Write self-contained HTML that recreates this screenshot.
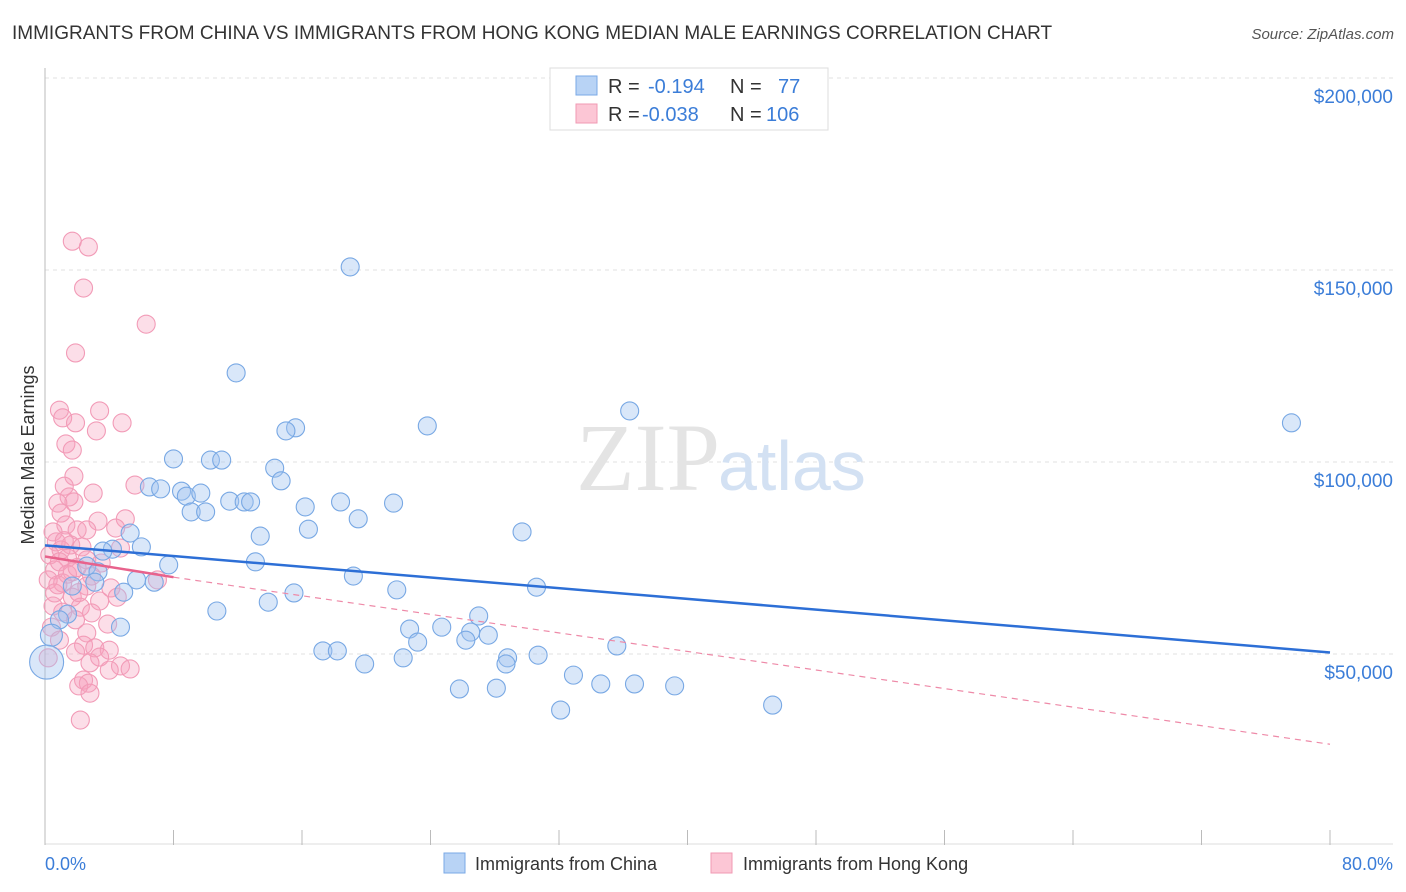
<!DOCTYPE html>
<html><head><meta charset="utf-8">
<style>
body{margin:0;background:#fff;font-family:"Liberation Sans",sans-serif;}
svg{display:block}
</style></head>
<body>
<svg id="chart" width="1406" height="892" xmlns="http://www.w3.org/2000/svg">
<text x="12" y="39" font-size="19" fill="#333">IMMIGRANTS FROM CHINA VS IMMIGRANTS FROM HONG KONG MEDIAN MALE EARNINGS CORRELATION CHART</text>
<text x="1394" y="39" font-size="15" fill="#555" font-style="italic" text-anchor="end">Source: ZipAtlas.com</text>
<g id="grid"></g>
<text x="720" y="490" font-size="96" font-family="Liberation Serif" fill="#e4e4e4" text-anchor="end">ZIP</text>
<text x="718" y="490" font-size="70" fill="#d3e1f3">atlas</text>
<g id="pts"></g>
<g id="trend"></g>
<text transform="translate(34,455) rotate(-90)" font-size="18" fill="#333" text-anchor="middle">Median Male Earnings</text>
<text x="45" y="870" font-size="18" fill="#3b7dd8">0.0%</text>
<text x="1393" y="870" font-size="18" fill="#3b7dd8" text-anchor="end">80.0%</text>
<g>
<rect x="550" y="68" width="278" height="62" fill="#fff" stroke="#ddd"/>
<rect x="576" y="76" width="21" height="19" fill="#b8d3f5" stroke="#7aa8e6"/>
<rect x="576" y="104" width="21" height="19" fill="#fcc6d5" stroke="#f09ab3"/>
<text x="608" y="93" font-size="20" fill="#333">R = </text><text x="648" y="93" font-size="20" fill="#3b7dd8">-0.194</text>
<text x="730" y="93" font-size="20" fill="#333">N = </text><text x="778" y="93" font-size="20" fill="#3b7dd8">77</text>
<text x="608" y="121" font-size="20" fill="#333">R = </text><text x="642" y="121" font-size="20" fill="#3b7dd8">-0.038</text>
<text x="730" y="121" font-size="20" fill="#333">N = </text><text x="766" y="121" font-size="20" fill="#3b7dd8">106</text>
</g>
<g>
<rect x="444" y="853" width="21" height="20" fill="#b8d3f5" stroke="#7aa8e6"/>
<text x="475" y="870" font-size="18" fill="#333">Immigrants from China</text>
<rect x="711" y="853" width="21" height="20" fill="#fcc6d5" stroke="#f09ab3"/>
<text x="743" y="870" font-size="18" fill="#333">Immigrants from Hong Kong</text>
</g>
</svg>
<script>
const yTicks=[50000,100000,150000,200000];
const yTickLabels=["$50,000","$100,000","$150,000","$200,000"];
const xTicks=[0,8,16,24,32,40,48,56,64,72,80];
const chinaX=[19.0,11.9,36.4,77.6,23.8,15.6,15.0,8.0,10.3,11.0,14.3,14.7,6.5,7.2,8.5,8.8,9.7,11.5,12.4,12.8,18.4,21.7,16.2,9.1,10.0,19.5,16.4,29.7,5.3,13.4,6.0,4.2,3.6,13.1,7.7,2.6,3.3,19.2,5.7,6.8,3.1,1.7,30.6,21.9,15.5,4.9,13.9,10.7,27.0,1.4,0.9,4.7,24.7,22.7,27.6,26.5,26.2,23.2,0.4,35.6,17.3,18.2,30.7,22.3,28.8,28.7,19.9,0.1,32.9,34.6,36.7,39.2,25.8,28.1,45.3,32.1];
const chinaY=[150.8,123.2,113.3,110.2,109.4,108.9,108.1,100.8,100.5,100.5,98.4,95.1,93.5,93.0,92.4,91.1,91.9,89.8,89.6,89.6,89.6,89.3,88.3,87.0,87.0,85.2,82.5,81.8,81.5,80.7,77.9,77.3,76.8,74.0,73.2,72.9,71.4,70.3,69.3,68.7,68.7,67.7,67.4,66.7,65.9,66.1,63.5,61.2,59.9,60.4,58.9,57.0,57.0,56.5,54.9,55.7,53.6,53.1,54.9,52.1,50.8,50.8,49.7,49.0,49.0,47.4,47.4,47.9,44.5,42.2,42.2,41.7,40.9,41.1,36.7,35.4];
const hkX=[1.7,2.7,2.4,6.3,1.9,0.9,3.4,1.1,1.9,4.8,3.2,1.3,1.7,1.8,1.2,5.6,3.0,1.5,1.8,0.8,1.0,3.3,5.0,1.3,2.0,0.5,2.6,4.4,0.7,1.6,2.3,1.0,4.7,0.3,1.4,2.6,3.5,0.6,1.7,2.9,0.2,1.1,2.6,4.1,7.0,0.6,1.7,3.4,4.5,2.2,1.1,2.9,1.9,3.9,0.4,2.6,0.9,2.4,3.1,4.0,1.9,3.4,0.2,2.8,4.7,4.0,5.3,2.4,2.7,2.1,2.8,2.2,0.9,1.4,2.1,0.5,1.2,2.0,0.8];
const hkY=[157.5,156.0,145.3,135.9,128.4,113.5,113.3,111.5,110.2,110.2,108.1,104.7,103.1,96.3,93.7,94.0,91.9,90.9,89.6,89.3,86.7,84.6,85.2,83.6,82.3,81.8,82.3,82.8,79.2,78.4,77.9,77.1,77.6,75.8,75.0,74.5,73.7,71.9,71.4,70.3,69.3,68.5,67.7,67.2,69.3,65.9,64.8,63.8,64.8,62.2,60.9,60.7,58.9,57.8,57.0,55.5,53.6,52.3,51.6,51.0,50.5,49.2,49.0,47.7,46.9,45.8,46.1,43.2,42.4,41.7,39.8,32.8,74.0,70.8,66.0,62.5,79.5,72.5,68.0];
const chinaTrend=[[0,78.3],[80,50.4]];
const hkTrendSolid=[[0,75.4],[8,70.0]];
const hkTrendDash=[[8,70.0],[80,26.5]];
const X=v=>45+v/80*1285;
const Y=v=>846-v/50000*192;
const Yk=v=>Y(v*1000);
const NS="http://www.w3.org/2000/svg";
function mk(tag,attrs,parent){const e=document.createElementNS(NS,tag);for(const k in attrs)e.setAttribute(k,attrs[k]);parent.appendChild(e);return e;}
const grid=document.getElementById('grid');
yTicks.forEach((t,i)=>{
  const l=mk('line',{x1:45,x2:1393,y1:Y(t),y2:Y(t),stroke:'#e2e2e2','stroke-dasharray':'4,4'},grid);
  
  
  const tx=mk('text',{x:1393,y:Y(t)+25,'font-size':19,fill:'#3b7dd8','text-anchor':'end'},grid);
  tx.textContent=yTickLabels[i];
  
  
});
const topLine=mk('line',{x1:45,x2:1393,y1:78,y2:78,stroke:'#e2e2e2','stroke-dasharray':'4,4'},grid);


const ax=mk('line',{x1:45,x2:45,y1:68,y2:845,stroke:'#bbb'},grid);


const bx=mk('line',{x1:45,x2:1393,y1:844,y2:844,stroke:'#ddd'},grid);


xTicks.forEach(t=>{
  const l=mk('line',{x1:X(t),x2:X(t),y1:830,y2:845,stroke:'#bbb'},grid);
  
  
});
const pts=document.getElementById('pts');
hkX.forEach((x,i)=>{
  const c=mk('circle',{cx:X(x),cy:Yk(hkY[i]),r:9,fill:'rgba(246,160,190,0.35)',stroke:'#f29bb7','stroke-width':1.1},pts);
  
  
});
chinaX.forEach((x,i)=>{
  const r=(x<0.5)?(chinaY[i]<50?17:11):9;
  const c=mk('circle',{cx:X(x),cy:Yk(chinaY[i]),r:r,fill:'rgba(160,196,240,0.4)',stroke:'#78a8e4','stroke-width':1.1},pts);
  
  
});
const tr=document.getElementById('trend');
const l1=mk('line',{x1:X(chinaTrend[0][0]),y1:Yk(chinaTrend[0][1]),x2:X(chinaTrend[1][0]),y2:Yk(chinaTrend[1][1]),stroke:'#2d6fd6','stroke-width':2.5},tr);


const l2=mk('line',{x1:X(hkTrendSolid[0][0]),y1:Yk(hkTrendSolid[0][1]),x2:X(hkTrendSolid[1][0]),y2:Yk(hkTrendSolid[1][1]),stroke:'#e8628c','stroke-width':2.5},tr);


const l3=mk('line',{x1:X(hkTrendDash[0][0]),y1:Yk(hkTrendDash[0][1]),x2:X(hkTrendDash[1][0]),y2:Yk(hkTrendDash[1][1]),stroke:'#ee8aa8','stroke-width':1.2,'stroke-dasharray':'6,5'},tr);


</script>
</body></html>
